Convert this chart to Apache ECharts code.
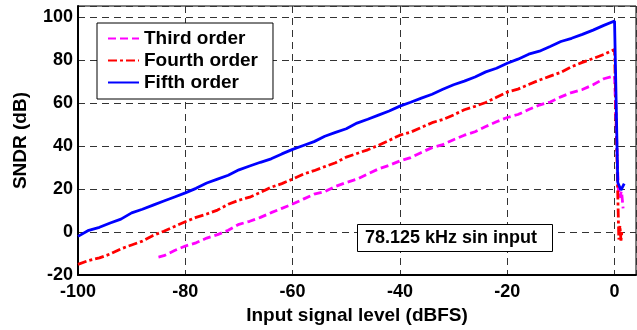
<!DOCTYPE html>
<html>
<head>
<meta charset="utf-8">
<script src="https://cdn.jsdelivr.net/npm/echarts@6/dist/echarts.min.js"></script>
<style>
html,body{margin:0;padding:0;background:#fff;}
#chart{width:637px;height:330px;}
</style>
</head>
<body>
<div id="chart"></div>
<script>
// Input levels (dBFS), step 2 from -100 to 0
const inputLevels = [-100,-98,-96,-94,-92,-90,-88,-86,-84,-82,-80,-78,-76,-74,-72,-70,-68,-66,-64,-62,-60,-58,-56,-54,-52,-50,-48,-46,-44,-42,-40,-38,-36,-34,-32,-30,-28,-26,-24,-22,-20,-18,-16,-14,-12,-10,-8,-6,-4,-2,0];
const fifthOrder = [-2.0,0.8,2.2,4.2,6.0,8.9,10.6,12.5,14.4,16.3,18.2,20.3,22.8,24.6,26.4,28.9,30.7,32.4,34.0,36.3,38.4,40.2,42.0,44.5,46.3,48.0,50.6,52.4,54.3,56.2,58.5,60.3,62.2,64.0,66.3,68.4,70.1,72.0,74.4,76.1,78.4,80.3,82.6,84.0,86.2,88.5,90.0,91.8,93.8,96.0,98.0];
const fourthOrder = [-15.0,-13.2,-12.0,-10.2,-7.8,-6.0,-4.2,-1.6,0.4,2.6,4.8,6.8,8.4,10.2,12.9,14.8,16.2,18.4,20.8,22.5,24.6,26.9,28.5,30.4,32.2,34.8,36.5,38.2,40.3,42.6,45.0,46.4,48.6,50.8,52.3,54.4,56.8,58.4,60.2,62.6,65.0,66.4,68.5,70.6,72.4,74.2,76.8,78.8,80.6,82.5,84.8];
const thirdLevels = [-85,-84,-82,-80,-78,-76,-74,-72,-70,-68,-66,-64,-62,-60,-58,-56,-54,-52,-50,-48,-46,-44,-42,-40,-38,-36,-34,-32,-30,-28,-26,-24,-22,-20,-18,-16,-14,-12,-10,-8,-6,-4,-2,0];
const thirdOrder = [-11.6,-11.0,-8.6,-6.5,-5.0,-2.8,-1.2,0.8,3.6,5.0,6.8,9.0,11.0,13.0,15.3,17.6,18.8,21.2,23.0,24.6,27.0,29.3,31.0,33.0,34.6,37.0,39.2,40.6,42.9,45.0,46.6,49.0,51.2,53.2,54.6,56.9,59.0,60.4,62.8,64.8,66.2,68.4,71.2,72.5];
// Overload (above 0 dBFS) tails
const fifthTailX = [0.1,0.6,1.2,1.8];
const fifthTailY = [98.0,23.0,19.5,22.5];
const fourthTailX = [0.3,0.6,0.8,1.0,1.2,1.4];
const fourthTailY = [84.8,18.0,-3.5,3.0,-4.0,1.0];
const thirdTailX = [0.3,0.7,0.9,1.3,1.6];
const thirdTailY = [72.5,20.0,16.0,19.0,11.0];
const xTicks = [-100,-80,-60,-40,-20,0];
const yTicks = [-20,0,20,40,60,80,100];

function zip(xs, ys){ return xs.map((x,i)=>[x, ys[i]]); }

const font = 'Liberation Sans, Arial, Helvetica, sans-serif';
const chart = echarts.init(document.getElementById('chart'), null, {renderer:'canvas'});
chart.setOption({
  animation:false,
  backgroundColor:'#fff',
  grid:{left:78, right:1, top:6, bottom:52, show:true, borderColor:'#000', borderWidth:1, containLabel:false},
  title:{
    text:'78.125 kHz sin input',
    left:357, top:224,
    padding:[5,16,5,8],
    borderColor:'#000', borderWidth:1, backgroundColor:'#fff',
    textStyle:{fontFamily:font, fontWeight:'bold', fontSize:18, lineHeight:18, color:'#000'}
  },
  legend:{
    orient:'vertical', left:97, top:23,
    padding:[6,15,7,10],
    itemGap:3, itemWidth:31, itemHeight:14, itemTextGap:16,
    itemStyle:{opacity:0},
    borderColor:'#000', borderWidth:1, backgroundColor:'#fff',
    textStyle:{fontFamily:font, fontWeight:'bold', fontSize:19, lineHeight:19, color:'#000'},
    data:['Third order','Fourth order','Fifth order']
  },
  xAxis:{
    type:'value', min:-100, max:4, interval:20,
    name:'Input signal level (dBFS)', nameLocation:'middle', nameGap:30,
    nameTextStyle:{fontFamily:font, fontWeight:'bold', fontSize:19, color:'#000'},
    axisLine:{show:true, onZero:false, lineStyle:{color:'#000', width:2}},
    axisTick:{show:false},
    axisLabel:{fontFamily:font, fontWeight:'bold', fontSize:18, color:'#000', margin:8, showMaxLabel:false,
      formatter:function(v){ return xTicks.indexOf(v) >= 0 ? String(v) : ''; }},
    splitLine:{show:true, lineStyle:{color:'#333', width:1, type:[7,5]}}
  },
  yAxis:{
    type:'value', min:-20, max:105, interval:20,
    name:'SNDR (dB)', nameLocation:'middle', nameGap:48,
    nameTextStyle:{fontFamily:font, fontWeight:'bold', fontSize:19, color:'#000'},
    axisLine:{show:true, onZero:false, lineStyle:{color:'#000', width:2}},
    axisTick:{show:false},
    axisLabel:{fontFamily:font, fontWeight:'bold', fontSize:18, color:'#000', margin:5, showMaxLabel:false,
      formatter:function(v){ return yTicks.indexOf(v) >= 0 ? String(v) : ''; }},
    splitLine:{show:true, lineStyle:{color:'#333', width:1, type:[7,5]}}
  },
  series:[
    {name:'Third order', type:'line', symbol:'none', color:'#ff00ff',
     lineStyle:{color:'#ff00ff', width:2.8, type:[8,4]},
     data: zip(thirdLevels, thirdOrder).concat(zip(thirdTailX, thirdTailY))},
    {name:'Fourth order', type:'line', symbol:'none', color:'#ff0000',
     lineStyle:{color:'#ff0000', width:2.8, type:[9,3,3,3]},
     data: zip(inputLevels, fourthOrder).concat(zip(fourthTailX, fourthTailY))},
    {name:'Fifth order', type:'line', symbol:'none', color:'#0000ff',
     lineStyle:{color:'#0000ff', width:2.8, type:'solid'},
     data: zip(inputLevels, fifthOrder).concat(zip(fifthTailX, fifthTailY))}
  ]
});
</script>
</body>
</html>
